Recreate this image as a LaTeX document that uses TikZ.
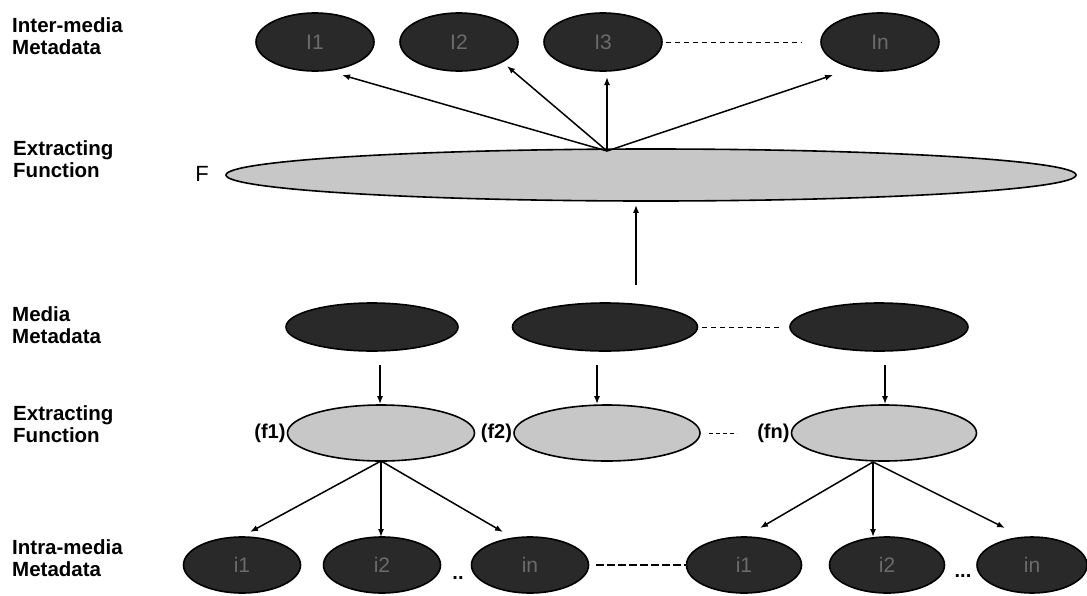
\documentclass[tikz,border=0pt]{standalone}
\usepackage{fontspec}
\setmainfont{Liberation Sans}
\usetikzlibrary{shapes.geometric,arrows.meta}
\begin{document}
\begin{tikzpicture}[x=1pt,y=-1pt,
  dark/.style={ellipse, draw=black, line width=1.6pt, fill=black!84, inner sep=0pt,
    text=black!58, font=\fontsize{21}{21}\selectfont},
  light/.style={ellipse, draw=black, line width=1.6pt, fill=black!22, inner sep=0pt},
  lbl/.style={anchor=north west, align=left, inner sep=0pt,
    font=\bfseries\fontsize{20.5}{22.5}\selectfont},
  tag/.style={inner sep=1pt, font=\bfseries\fontsize{20}{20}\selectfont},
  arr/.style={-{Latex[length=8pt,width=6pt]}, line width=1.5pt},
  thindash/.style={line width=1pt, dash pattern=on 5pt off 4pt},
  thickdash/.style={line width=2.5pt, dash pattern=on 8pt off 3pt}]
\useasboundingbox (0,0) rectangle (1087,595);

% row labels
\node[lbl] (l1) at (12,17) {Inter-media\\Metadata};
\node[lbl] (l2) at (13,140) {Extracting\\Function};
\node[lbl] (l3) at (12,306) {Media\\Metadata};
\node[lbl] (l4) at (13,405) {Extracting\\Function};
\node[lbl] (l5) at (12,539) {Intra-media\\Metadata};

% inter-media metadata
\node[dark, minimum width=118pt, minimum height=58pt] (I1) at (315,42) {I1};
\node[dark, minimum width=118pt, minimum height=58pt] (I2) at (459,42) {I2};
\node[dark, minimum width=118pt, minimum height=58pt] (I3) at (603,42) {I3};
\node[dark, minimum width=118pt, minimum height=58pt] (In) at (880,42) {In};
\draw[thindash] ([xshift=3pt]I3.east) -- ([xshift=-18pt]In.west);

% global extracting function
\node[light, minimum width=850pt, minimum height=52pt] (F) at (651,175) {};
\node[tag, font=\fontsize{22}{22}\selectfont] (Ftag) at (202,174) {F};
\coordinate (apex) at (607,151);
\coordinate (t1) at (342,75);
\coordinate (t2) at (507,66);
\coordinate (t3) at (607,77);
\coordinate (t4) at (833,75);
\draw[arr] (apex) -- (t1);
\draw[arr] (apex) -- (t2);
\draw[arr] (apex) -- (t3);
\draw[arr] (apex) -- (t4);

% media metadata
\node[dark, minimum width=172pt, minimum height=48pt] (M1) at (372,327) {};
\node[dark, minimum width=185pt, minimum height=48pt] (M2) at (605,327) {};
\node[dark, minimum width=178pt, minimum height=48pt] (M3) at (879,327) {};
\draw[thindash] ([xshift=4pt]M2.east) -- ([xshift=-8pt]M3.west);
\coordinate (up) at (636,285);
\draw[arr] (up) -- ([yshift=-3pt]F.south -| up);

% per-media extracting functions
\node[light, minimum width=187pt, minimum height=56pt] (f1) at (381,433) {};
\node[light, minimum width=186pt, minimum height=56pt] (f2) at (607,433) {};
\node[light, minimum width=185pt, minimum height=56pt] (fn) at (884,433) {};
\node[tag, anchor=east] (f1tag) at (f1.west) {(f1)};
\node[tag, anchor=east] (f2tag) at (f2.west) {(f2)};
\node[tag, anchor=east] (fntag) at (fn.west) {(fn)};
\draw[thindash, dash pattern=on 4pt off 3pt] ([xshift=8pt]f2.east) -- ([xshift=36pt]f2.east);

\coordinate (d1) at (380,365);
\coordinate (d2) at (597,365);
\coordinate (d3) at (885,365);
\draw[arr] (d1) -- (d1 |- f1.north);
\draw[arr] (d2) -- (d2 |- f2.north);
\draw[arr] (d3) -- (d3 |- fn.north);

% intra-media metadata
\node[dark, minimum width=117pt, minimum height=56pt] (a1) at (242,565) {i1};
\node[dark, minimum width=117pt, minimum height=56pt] (a2) at (382,565) {i2};
\node[dark, minimum width=117pt, minimum height=56pt] (a3) at (530,565) {in};
\node[dark, minimum width=115pt, minimum height=56pt] (b1) at (744,565) {i1};
\node[dark, minimum width=115pt, minimum height=56pt] (b2) at (887,565) {i2};
\node[dark, minimum width=110pt, minimum height=56pt] (b3) at (1032,565) {in};
\node[tag] (dotsA) at (458,578) {..};
\node[tag] (dotsB) at (963,576) {...};
\draw[thickdash] ([xshift=7pt]a3.east) -- (b1.west);

\coordinate (oa) at (381,461);
\coordinate (ob) at (873,462);
\coordinate (ta1) at (250,532);
\coordinate (ta2) at (381,537);
\coordinate (ta3) at (503,532);
\coordinate (tb1) at (760,528);
\coordinate (tb2) at (873,537);
\coordinate (tb3) at (1005,528);
\draw[arr] (oa) -- (ta1);
\draw[arr] (oa) -- (ta2);
\draw[arr] (oa) -- (ta3);
\draw[arr] (ob) -- (tb1);
\draw[arr] (ob) -- (tb2);
\draw[arr] (ob) -- (tb3);
\end{tikzpicture}
\end{document}
